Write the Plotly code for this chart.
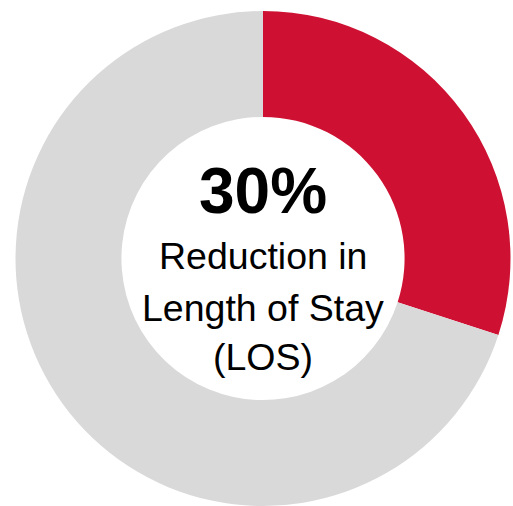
import plotly.graph_objects as go

labels = ["Reduction", "Remaining"]
values = [30, 70]
colors = ["#CE1132", "#D9D9D9"]
headline = "30%"
caption_lines = ["Reduction in", "Length of Stay", "(LOS)"]

W, H = 513, 506

fig = go.Figure(go.Pie(
    labels=labels, values=values, hole=0.572,
    marker=dict(colors=colors, line=dict(width=0)),
    sort=False, direction="clockwise", rotation=0,
    textinfo="none", hoverinfo="skip", showlegend=False,
    domain=dict(x=[13 / W, 1.0], y=[0.0, 1 - 11 / H]),
))

def ypaper(px):
    return 1 - px / H

annotations = [dict(text=f"<b>{headline}</b>", x=263 / W, y=ypaper(191), xref="paper", yref="paper",
                    showarrow=False, xanchor="center", yanchor="middle",
                    font=dict(family="Liberation Sans, Arial, sans-serif", size=64, color="#000000"))]
for line, cy in zip(caption_lines, [256, 307.5, 357]):
    annotations.append(dict(text=line, x=263 / W, y=ypaper(cy), xref="paper", yref="paper",
                            showarrow=False, xanchor="center", yanchor="middle",
                            font=dict(family="Liberation Sans, Arial, sans-serif", size=37.5, color="#000000")))

fig.update_layout(width=W, height=H, margin=dict(l=0, r=0, t=0, b=0),
                  paper_bgcolor="white", plot_bgcolor="white",
                  annotations=annotations)

fig.write_html("out.html")
